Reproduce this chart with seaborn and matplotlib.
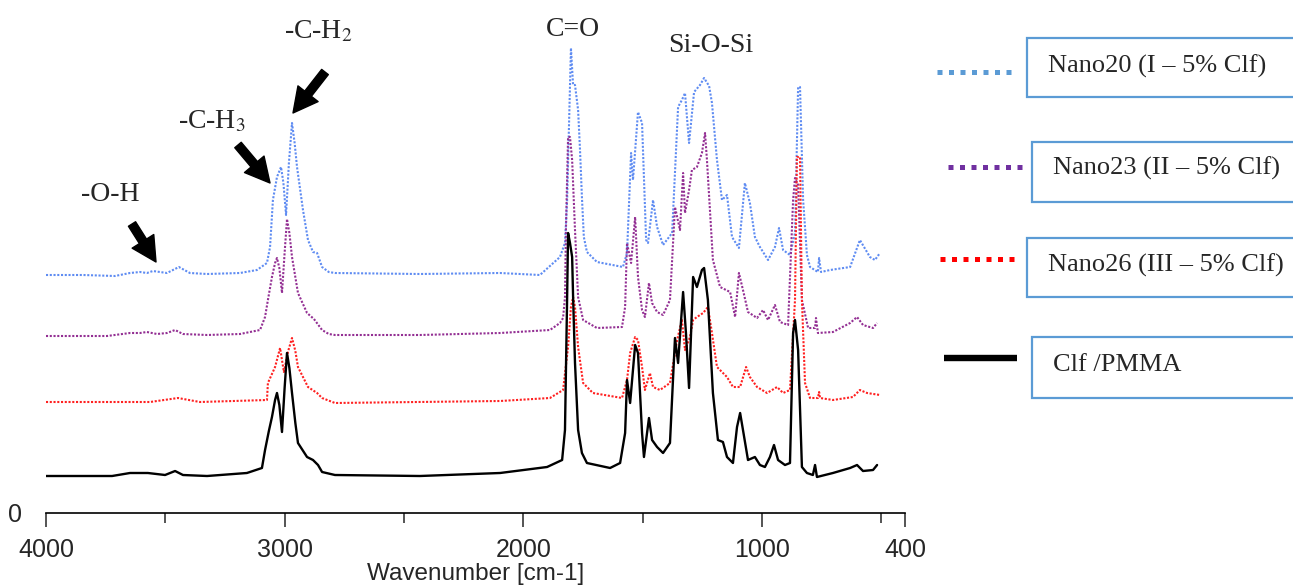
import pandas as pd
import matplotlib
matplotlib.use("Agg")
import matplotlib.pyplot as plt
from matplotlib.patches import Rectangle
from matplotlib.lines import Line2D
import seaborn as sns

# FTIR spectra: (wavenumber cm-1, stacked absorbance)

NANO20 = [
    (4000, 2.38), (3845, 2.38), (3711, 2.37), (3648, 2.40), (3606, 2.41),
    (3577, 2.40), (3552, 2.42), (3493, 2.40), (3443, 2.46), (3397, 2.40),
    (3325, 2.39), (3187, 2.40), (3116, 2.43), (3074, 2.50), (3061, 2.66),
    (3049, 3.13), (3032, 3.36), (3015, 3.46), (3005, 3.30), (2994, 2.98),
    (2982, 3.50), (2969, 3.90), (2958, 3.70), (2948, 3.46), (2923, 3.03),
    (2902, 2.73), (2881, 2.61), (2864, 2.60), (2843, 2.46), (2815, 2.41),
    (2789, 2.40), (2433, 2.39), (2097, 2.40), (1930, 2.38),
    (1846, 2.56), (1825, 2.70), (1816, 3.13), (1800, 4.65), (1791, 4.28),
    (1783, 4.28), (1770, 4.03), (1762, 3.63), (1754, 3.16), (1746, 2.76),
    (1733, 2.61), (1691, 2.51), (1582, 2.46), (1565, 2.60), (1548, 3.60),
    (1540, 3.33), (1519, 4.01), (1502, 3.90), (1485, 2.73), (1477, 2.70),
    (1456, 3.13), (1439, 2.86), (1414, 2.68), (1376, 2.80), (1351, 4.06),
    (1335, 4.13), (1322, 4.20), (1305, 3.70), (1284, 4.21), (1259, 4.28),
    (1242, 4.35), (1221, 4.27), (1209, 4.10), (1188, 3.53), (1167, 3.13),
    (1146, 3.18), (1125, 2.76), (1096, 2.65), (1071, 3.30), (1050, 3.10),
    (1029, 2.76), (1008, 2.66), (974, 2.53), (945, 2.66), (928, 2.85),
    (911, 2.63), (882, 2.58), (861, 2.80), (848, 4.26), (840, 4.26),
    (827, 3.13), (811, 2.58), (798, 2.46), (765, 2.41), (760, 2.55),
    (752, 2.41), (714, 2.43), (630, 2.46), (589, 2.73), (547, 2.56),
    (526, 2.53), (505, 2.60),
]

NANO23 = [
    (4000, 1.77), (3858, 1.77), (3744, 1.77), (3648, 1.80), (3606, 1.80),
    (3577, 1.81), (3535, 1.79), (3493, 1.80), (3459, 1.83), (3426, 1.79),
    (3325, 1.78), (3187, 1.79), (3103, 1.83), (3082, 1.96), (3070, 2.13),
    (3053, 2.36), (3040, 2.50), (3032, 2.55), (3022, 2.45), (3011, 2.20),
    (3000, 2.60), (2990, 2.94), (2980, 2.80), (2969, 2.56), (2944, 2.20),
    (2906, 2.00), (2877, 1.94), (2843, 1.83), (2815, 1.79), (2789, 1.78),
    (2433, 1.78), (2097, 1.80), (1888, 1.83), (1846, 1.90), (1833, 1.95),
    (1825, 2.16), (1821, 2.83), (1812, 3.76), (1804, 3.76), (1795, 3.53),
    (1783, 2.83), (1770, 2.16), (1749, 1.93), (1691, 1.85), (1586, 1.86),
    (1573, 2.06), (1565, 2.70), (1548, 2.50), (1531, 2.96), (1519, 2.36),
    (1502, 2.03), (1490, 1.96), (1473, 2.30), (1460, 2.10), (1439, 2.01),
    (1414, 1.98), (1385, 2.13), (1364, 3.06), (1343, 2.83), (1330, 3.40),
    (1322, 3.00), (1305, 3.23), (1293, 3.43), (1272, 3.46), (1251, 3.60),
    (1238, 3.80), (1230, 3.53), (1205, 2.53), (1175, 2.26), (1133, 2.21),
    (1112, 1.96), (1096, 2.40), (1079, 2.23), (1058, 2.01), (1020, 1.95),
    (995, 2.03), (974, 1.93), (945, 2.08), (924, 1.91), (890, 1.88),
    (869, 3.13), (861, 3.35), (848, 3.28), (832, 2.13), (806, 1.85),
    (777, 1.85), (773, 1.95), (765, 1.80), (702, 1.81), (630, 1.90),
    (601, 1.96), (576, 1.88), (534, 1.85), (517, 1.90),
]

NANO26 = [
    (4000, 1.11), (3564, 1.11), (3447, 1.15), (3355, 1.11), (3074, 1.13),
    (3070, 1.30), (3040, 1.46), (3019, 1.65), (3003, 1.41), (2985, 1.62),
    (2969, 1.75), (2955, 1.62), (2944, 1.46), (2902, 1.26), (2864, 1.20),
    (2843, 1.15), (2789, 1.10), (2097, 1.12), (1888, 1.15), (1833, 1.23),
    (1812, 1.66), (1800, 2.06), (1791, 2.16), (1783, 2.06), (1770, 1.66),
    (1749, 1.30), (1708, 1.20), (1586, 1.15), (1565, 1.33), (1552, 1.60),
    (1531, 1.76), (1519, 1.73), (1502, 1.46), (1490, 1.23), (1469, 1.40),
    (1456, 1.26), (1427, 1.23), (1385, 1.30), (1355, 1.73), (1335, 1.93),
    (1322, 1.63), (1301, 1.76), (1288, 1.93), (1272, 1.96), (1246, 2.00),
    (1226, 2.06), (1209, 1.80), (1188, 1.46), (1146, 1.36), (1121, 1.26),
    (1091, 1.26), (1066, 1.46), (1050, 1.36), (1020, 1.26), (978, 1.20),
    (936, 1.26), (911, 1.20), (882, 1.23), (861, 2.13), (853, 3.56),
    (840, 3.56), (832, 2.13), (819, 1.30), (798, 1.15), (765, 1.15),
    (760, 1.21), (756, 1.15), (702, 1.13), (618, 1.16), (589, 1.23),
    (559, 1.20), (505, 1.18),
]

CLF_PMMA = [
    (4000, 0.37), (3858, 0.37), (3723, 0.37), (3648, 0.40), (3606, 0.40),
    (3573, 0.40), (3501, 0.38), (3459, 0.42), (3426, 0.38), (3325, 0.37),
    (3158, 0.40), (3095, 0.45), (3082, 0.63), (3066, 0.82), (3053, 0.96),
    (3040, 1.13), (3032, 1.20), (3022, 1.08), (3011, 0.81), (3000, 1.25),
    (2990, 1.60), (2980, 1.45), (2969, 1.20), (2955, 0.90), (2944, 0.70),
    (2906, 0.56), (2881, 0.53), (2860, 0.48), (2843, 0.41), (2789, 0.38),
    (2433, 0.37), (2097, 0.40), (1900, 0.46), (1837, 0.53), (1825, 0.83),
    (1816, 2.16), (1812, 2.80), (1804, 2.70), (1795, 2.56), (1791, 2.16),
    (1783, 1.50), (1770, 0.83), (1754, 0.60), (1733, 0.50), (1636, 0.45),
    (1594, 0.50), (1573, 0.80), (1565, 1.33), (1552, 1.10), (1531, 1.68),
    (1519, 1.60), (1502, 0.80), (1494, 0.56), (1473, 0.95), (1460, 0.73),
    (1439, 0.66), (1414, 0.60), (1385, 0.70), (1364, 1.75), (1351, 1.50),
    (1330, 2.21), (1318, 1.80), (1305, 1.25), (1288, 2.36), (1272, 2.26),
    (1251, 2.43), (1242, 2.45), (1226, 2.13), (1205, 1.20), (1184, 0.73),
    (1163, 0.71), (1146, 0.56), (1121, 0.50), (1104, 0.86), (1091, 1.00),
    (1079, 0.83), (1058, 0.53), (1029, 0.56), (1008, 0.48), (987, 0.46),
    (966, 0.56), (949, 0.68), (932, 0.53), (903, 0.48), (882, 0.50),
    (869, 1.80), (861, 1.93), (848, 1.63), (832, 0.46), (811, 0.40),
    (786, 0.38), (777, 0.48), (769, 0.36), (702, 0.40), (630, 0.45),
    (601, 0.48), (576, 0.42), (534, 0.43), (517, 0.48),
]

LEGEND_LABELS = ["Nano20 (I \u2013 5% Clf)", "Nano23 (II \u2013 5% Clf)",
                 "Nano26 (III \u2013 5% Clf)", "Clf /PMMA"]
X_TICKS = [4000, 3000, 2000, 1000, 400]
X_MINOR = [3500, 2500, 1500, 500]
PEAK_LABELS = ["-O-H", "-C-H$_3$", "-C-H$_2$", "C=O", "Si-O-Si"]

W, H = 1293, 585

sns.set_style("white")
plt.rcParams["font.family"] = ["Liberation Sans", "DejaVu Sans"]
plt.rcParams["mathtext.fontset"] = "stix"

fig = plt.figure(figsize=(W / 100, H / 100), dpi=100)
ax = fig.add_axes([46 / W, 1 - 513 / H, 859 / W, 513 / H])

dots = (0, (1, 0.8))
series = [
    (NANO20, "#5f8cf2", dots, 1.5),
    (NANO23, "#932f93", dots, 1.5),
    (NANO26, "#ff2020", dots, 1.5),
    (CLF_PMMA, "black", "-", 1.7),
]
for pts, col, ls, lw in series:
    df = pd.DataFrame(pts, columns=["wavenumber", "absorbance"])
    sns.lineplot(data=df, x="wavenumber", y="absorbance", color=col,
                 linestyle=ls, linewidth=lw, estimator=None, sort=False, ax=ax)

ax.set_xlim(4000, 400)
ax.set_ylim(0, 5.13)
ax.set_xticks(X_TICKS)
ax.set_xticks(X_MINOR, minor=True)
ax.set_yticks([0])
ax.tick_params(axis="x", which="major", direction="out", length=10, width=1.1,
               labelsize=18, pad=8, bottom=True)
ax.tick_params(axis="x", which="minor", direction="out", length=7, width=1.1, bottom=True)
ax.tick_params(axis="y", length=0, labelsize=18, pad=17)
ax.set_xlabel("Wavenumber [cm-1]", fontsize=17.5, labelpad=1)
ax.set_ylabel("")
for s in ["top", "right", "left"]:
    ax.spines[s].set_visible(False)
ax.spines["bottom"].set_linewidth(1.2)
ax.spines["bottom"].set_color("black")


def fp(x, y):
    return (x, H - y)


serif = ["Liberation Serif", "DejaVu Serif"]

# peak labels and arrows
label_pos = [(110, 195), (212, 122), (318, 32), (573, 30), (711, 46)]
for txt, (x, y) in zip(PEAK_LABELS, label_pos):
    fig.text(x / W, 1 - y / H, txt, family=serif, fontsize=20,
             ha="center", va="center")

arrows = [((132, 224), (156, 262)), ((238, 145), (270, 183)), ((325, 72), (293, 113))]
for tail, tip in arrows:
    ax.annotate("", xy=fp(*tip), xycoords="figure pixels",
                xytext=fp(*tail), textcoords="figure pixels",
                arrowprops=dict(arrowstyle="simple,head_length=1.1,head_width=1.15,tail_width=0.38",
                                color="black", mutation_scale=16, shrinkA=0, shrinkB=0))

# legend made of boxes on the right
boxes = [(1027, 38, 97, 1048, 66, (937, 1017, 72), "#5b9bd5", (0, (1, 1.3))),
         (1032, 142, 202, 1053, 168, (948, 1022, 167), "#7030a0", (0, (1, 1.3))),
         (1027, 238, 297, 1048, 265, (940, 1014, 259), "#ff0000", (0, (1, 1.3))),
         (1032, 337, 398, 1053, 365, (944, 1017, 358), "black", "-")]
for lab, (bx, by0, by1, tx, ty, (lx0, lx1, ly), lc, lls) in zip(LEGEND_LABELS, boxes):
    fig.add_artist(Rectangle((bx / W, 1 - by1 / H), 400 / W, (by1 - by0) / H,
                             transform=fig.transFigure, facecolor="white",
                             edgecolor="#5b9bd5", linewidth=1.6))
    fig.text(tx / W, 1 - ty / H, lab, family=serif, fontsize=19, ha="left", va="center")
    lw = 4.6 if lls == "-" else 3.6
    fig.add_artist(Line2D([lx0 / W, lx1 / W], [1 - ly / H, 1 - ly / H],
                          transform=fig.transFigure, color=lc, linewidth=lw,
                          linestyle=lls, dash_capstyle="butt", solid_capstyle="butt"))

fig.savefig("out.png", dpi=100)
